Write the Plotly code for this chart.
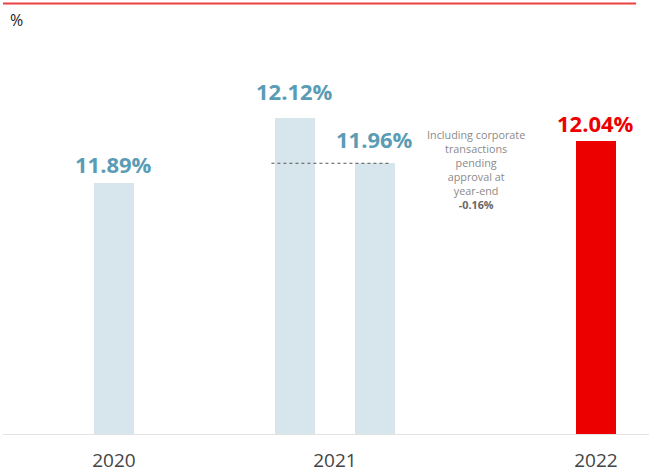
import plotly.graph_objects as go

# Data
bar_names = ["2020", "2021", "2021 (adj.)", "2022"]
bar_pos = [0.0, 1.0, 1.442, 2.663]
values = [11.89, 12.12, 11.96, 12.04]
value_labels = ["11.89%", "12.12%", "11.96%", "12.04%"]
tick_pos = [0.0, 1.221, 2.663]
tick_labels = ["2020", "2021", "2022"]
note_text = ("Including corporate<br>transactions<br>pending<br>approval at<br>year-end<br>"
             "<b><span style='color:#666666'>-0.16%</span></b>")

light = "#d7e6ed"
red = "#ec0000"
teal = "#5a9cb5"
colors = [light, light, light, red]
text_colors = [teal, teal, teal, red]
label_lift = [2, 10, 7, 1]  # pixel offsets of the value labels

fig = go.Figure()
fig.add_trace(go.Bar(
    x=bar_pos, y=values, width=0.221,
    marker=dict(color=colors, line=dict(width=0)),
    hoverinfo="skip",
))

for xp, v, lab, c, lift in zip(bar_pos, values, value_labels, text_colors, label_lift):
    fig.add_annotation(x=xp, y=v, xref="x", yref="y", text="<b>" + lab + "</b>",
                       showarrow=False, yanchor="bottom", yshift=lift,
                       font=dict(family="Open Sans", size=22, color=c))

# dashed reference line at the adjusted 2021 level
fig.add_shape(type="line", x0=bar_pos[1] - 0.13, x1=bar_pos[2] + 0.08,
              y0=values[2], y1=values[2], xref="x", yref="y",
              line=dict(color="#555555", width=1, dash="dot"))

fig.add_annotation(x=2.0, y=12.097, xref="x", yref="y",
                   text=note_text, showarrow=False, yanchor="top",
                   align="center",
                   font=dict(family="Open Sans", size=10.8, color="#8a8a8a"))

# top red rule and % label
fig.add_shape(type="line", x0=0, x1=0.98, y0=1.04, y1=1.04,
              xref="paper", yref="paper", line=dict(color="#ec4040", width=2))
fig.add_annotation(x=0.008, y=1.0, xref="paper", yref="paper", text="%",
                   showarrow=False, xanchor="left", yanchor="middle",
                   font=dict(family="Open Sans", size=16, color="#222222"))

fig.update_layout(
    width=649, height=474,
    margin=dict(l=3, r=0, t=20, b=40, autoexpand=False),
    paper_bgcolor="white", plot_bgcolor="white",
    showlegend=False, bargap=0,
    xaxis=dict(range=[-0.613, 2.956], tickvals=tick_pos, ticktext=tick_labels,
               showgrid=False, zeroline=False, showline=True,
               linecolor="#e3e3e3", linewidth=1, automargin=False,
               ticks="outside", ticklen=9, tickcolor="rgba(0,0,0,0)",
               tickfont=dict(family="Open Sans", size=19, color="#444444")),
    yaxis=dict(range=[11.002, 12.467], visible=False, automargin=False),
)

fig.write_html("out.html", config={"displayModeBar": False},
               post_script="document.body.style.margin='0';document.body.style.overflow='hidden';")
